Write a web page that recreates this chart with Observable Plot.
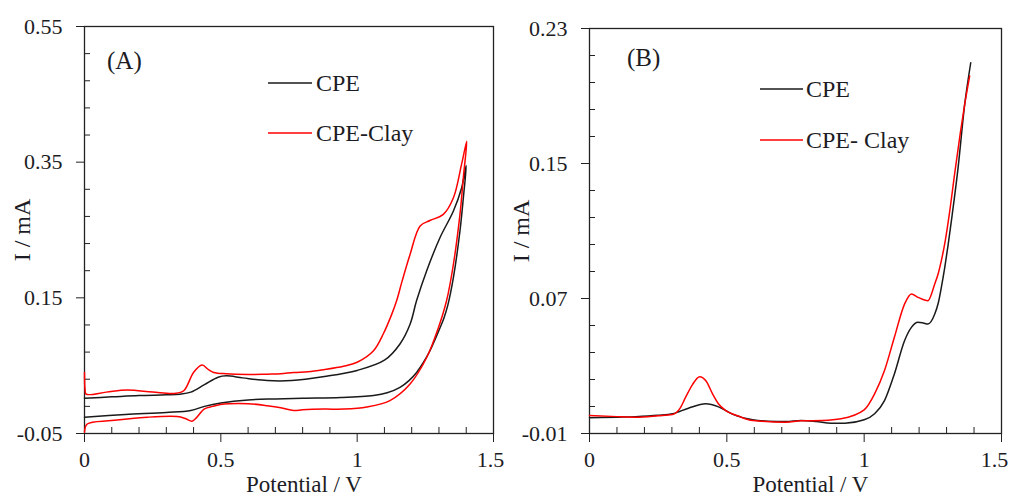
<!DOCTYPE html>
<html>
<head>
<meta charset="utf-8">
<script src="https://cdn.jsdelivr.net/npm/d3@7"></script>
<script src="https://cdn.jsdelivr.net/npm/@observablehq/plot@0.6"></script>
<style>
  html, body { margin: 0; padding: 0; background: #fff; }
  #wrap { position: relative; width: 1010px; height: 498px; overflow: hidden; background: #fff; }
  .panel { position: absolute; top: 0; }
  #overlay { position: absolute; left: 0; top: 0; pointer-events: none; }
</style>
</head>
<body>
<div id="wrap">
  <div class="panel" id="pa" style="left:0px"></div>
  <div class="panel" id="pb" style="left:505px"></div>
</div>
<script>
// ---------- Panel A data (cyclic voltammograms) ----------
const aCpeE = [0, 0.1, 0.2, 0.3, 0.35, 0.39, 0.44, 0.49, 0.52, 0.58, 0.67, 0.76, 0.88, 1.0, 1.1, 1.157, 1.194, 1.218, 1.255, 1.304, 1.353, 1.383, 1.40,
               1.39, 1.377, 1.353, 1.333, 1.318, 1.304, 1.285, 1.267, 1.24, 1.218, 1.19, 1.157, 1.11, 1.06, 0.94, 0.8, 0.7, 0.6, 0.5, 0.44, 0.39, 0.3, 0.15, 0];
const aCpeI = [0.002, 0.004, 0.006, 0.007, 0.008, 0.011, 0.022, 0.033, 0.035, 0.032, 0.028, 0.028, 0.034, 0.043, 0.058, 0.082, 0.111, 0.146, 0.19, 0.239, 0.278, 0.312, 0.345,
               0.30, 0.2485, 0.18, 0.14, 0.12, 0.106, 0.088, 0.072, 0.053, 0.04, 0.028, 0.018, 0.010, 0.006, 0.003, 0.002, 0.001, -0.0005, -0.005, -0.010, -0.016, -0.019, -0.022, -0.026];
const aClayE = [0, 0.002, 0.006, 0.08, 0.156, 0.25, 0.33, 0.364, 0.40, 0.431, 0.455, 0.474, 0.52, 0.6, 0.67, 0.72, 0.767, 0.82, 0.877, 0.95, 1.0, 1.06, 1.096, 1.127, 1.145, 1.165, 1.194, 1.231, 1.267, 1.316, 1.353, 1.383, 1.402,
                1.39, 1.377, 1.353, 1.328, 1.298, 1.255, 1.194, 1.12, 1.035, 0.95, 0.88, 0.8, 0.767, 0.72, 0.67, 0.6, 0.53, 0.498, 0.47, 0.44, 0.41, 0.394, 0.37, 0.34, 0.23, 0.1, 0.01, 0];
const aClayI = [0.04, 0.015, 0.008, 0.011, 0.014, 0.011, 0.009, 0.013, 0.04, 0.051, 0.044, 0.04, 0.038, 0.037, 0.0375, 0.038, 0.04, 0.041, 0.044, 0.049, 0.055, 0.072, 0.097, 0.126, 0.146, 0.175, 0.214, 0.256, 0.264, 0.273, 0.2975, 0.347, 0.381,
                0.33, 0.273, 0.1995, 0.146, 0.106, 0.062, 0.023, -0.0015, -0.011, -0.014, -0.014, -0.015, -0.016, -0.012, -0.009, -0.006, -0.006, -0.0073, -0.010, -0.0137, -0.027, -0.032, -0.028, -0.025, -0.026, -0.031, -0.036, -0.048];

// ---------- Panel B data (linear sweep) ----------
const bCpeE = [0, 0.1, 0.168, 0.25, 0.302, 0.36, 0.423, 0.47, 0.52, 0.594, 0.65, 0.715, 0.77, 0.825, 0.88, 0.93, 1.0, 1.038, 1.074, 1.11, 1.147, 1.172, 1.196, 1.215, 1.232, 1.257, 1.27, 1.281, 1.293, 1.305, 1.32, 1.342, 1.366, 1.388];
const bCpeI = [-0.0007, -0.0003, 0, 0.0008, 0.0017, 0.005, 0.0076, 0.0058, 0.0015, -0.0019, -0.0027, -0.0029, -0.0023, -0.0029, -0.0039, -0.0039, -0.0019, 0.0017, 0.0095, 0.0253, 0.045, 0.0529, 0.0559, 0.0555, 0.0549, 0.0608, 0.0675, 0.0766, 0.088, 0.101, 0.119, 0.1476, 0.185, 0.2097];
const bClayE = [0, 0.1, 0.168, 0.25, 0.302, 0.33, 0.35, 0.375, 0.401, 0.425, 0.448, 0.47, 0.496, 0.54, 0.594, 0.715, 0.77, 0.85, 0.916, 1.0, 1.038, 1.074, 1.11, 1.147, 1.172, 1.196, 1.232, 1.257, 1.27, 1.281, 1.295, 1.31, 1.33, 1.35, 1.366, 1.384];
const bClayI = [0.0007, 0.0, -0.0003, 0.0005, 0.0012, 0.005, 0.0115, 0.019, 0.0237, 0.021, 0.0135, 0.0075, 0.0036, 0.0005, -0.0023, -0.0033, -0.0025, -0.0023, -0.0013, 0.004, 0.0135, 0.0273, 0.047, 0.0667, 0.0727, 0.0707, 0.0687, 0.0786, 0.085, 0.0924, 0.104, 0.12, 0.1446, 0.168, 0.185, 0.2018];

// ---------- Ticks & labels ----------
const xMajor = [0, 0.5, 1, 1.5];
const xMinor = [0.1, 0.2, 0.3, 0.4, 0.6, 0.7, 0.8, 0.9, 1.1, 1.2, 1.3, 1.4];
const aYMajor = [-0.05, 0.15, 0.35, 0.55];
const aYMinor = [-0.01, 0.03, 0.07, 0.11, 0.19, 0.23, 0.27, 0.31, 0.39, 0.43, 0.47, 0.51];
const bYMajor = [-0.01, 0.07, 0.15, 0.23];
const bYMinor = [0.006, 0.022, 0.038, 0.054, 0.086, 0.102, 0.118, 0.134, 0.166, 0.182, 0.198, 0.214];
const seriesA = ["CPE", "CPE-Clay"];
const seriesB = ["CPE", "CPE- Clay"];
const colors = ["#1a1a1a", "#ff0000"];
const xTitle = "Potential / V";
const yTitle = "I / mA";
const panelTags = ["(A)", "(B)"];

const FONT = "'Liberation Serif', 'Times New Roman', serif";
const TXT = "#1c1c24";

function rows(E, I, s) { return E.map((e, i) => ({E: e, I: I[i], s})); }

function panel({data, series, yMajor, yMinor, mr, mt, yDx, lastDx, curve}) {
  const fmtX = d => String(d);
  return Plot.plot({
    width: 505, height: 498,
    marginLeft: 84, marginRight: mr, marginTop: mt, marginBottom: 65,
    x: {domain: [0, 1.5]},
    y: {domain: [yMajor[0], yMajor[yMajor.length - 1]]},
    color: {domain: series, range: colors},
    style: {fontFamily: FONT, fontSize: "22px", color: TXT, background: "white", overflow: "visible"},
    marks: [
      // major x ticks (outward) and their labels
      Plot.axisX({ticks: xMajor, tickSize: 9, tickFormat: () => "", label: null, stroke: "#222"}),
      Plot.axisX({ticks: xMajor.slice(0, -1), tickSize: 0, tickPadding: 18, tickFormat: fmtX, label: null, fontSize: 22, fill: TXT}),
      Plot.axisX({ticks: xMajor.slice(-1), tickSize: 0, tickPadding: 18, dx: lastDx, tickFormat: fmtX, label: null, fontSize: 22, fill: TXT}),
      // minor x ticks (inward)
      Plot.axisX({ticks: xMinor, tickSize: 6, dy: -6, tickFormat: () => "", label: null, stroke: "#222"}),
      // y ticks
      Plot.axisY({ticks: yMajor, tickSize: 8, tickPadding: 14, tickFormat: d => d.toFixed(2), label: null, stroke: "#222", fontSize: 22, fill: TXT}),
      Plot.axisY({ticks: yMinor, tickSize: 6, dx: 6, tickFormat: () => "", label: null, stroke: "#222"}),
      Plot.frame({stroke: "#222", strokeWidth: 1.3}),
      Plot.text([xTitle], {frameAnchor: "bottom", dx: 15, dy: 51, lineAnchor: "middle", textAnchor: "middle", fontSize: 23, fill: TXT}),
      Plot.text([yTitle], {frameAnchor: "left", dx: yDx, rotate: -90, lineAnchor: "middle", textAnchor: "middle", fontSize: 24, fill: TXT}),
      Plot.line(data, {x: "E", y: "I", z: "s", stroke: "s", strokeWidth: 1.5, curve})
    ]
  });
}

const dataA = [...rows(aCpeE, aCpeI, seriesA[0]), ...rows(aClayE, aClayI, seriesA[1])];
const dataB = [...rows(bCpeE, bCpeI, seriesB[0]), ...rows(bClayE, bClayI, seriesB[1])];

document.getElementById("pa").appendChild(panel({data: dataA, series: seriesA, yMajor: aYMajor, yMinor: aYMinor, mr: 12, mt: 26, yDx: -62, lastDx: -3, curve: "catmull-rom"}));
document.getElementById("pb").appendChild(panel({data: dataB, series: seriesB, yMajor: bYMajor, yMinor: bYMinor, mr: 9, mt: 28, yDx: -68, lastDx: -7, curve: "monotone-x"}));

// ---------- Legends & panel tags (overlay) ----------
const ov = d3.select("#wrap").append("svg").attr("id", "overlay").attr("width", 1010).attr("height", 498)
  .style("font-family", FONT);
const legends = [
  {tag: panelTags[0], tx: 107, ty: 60, x1: 268, x2: 312, tx2: 316, ys: [83, 133], labels: seriesA},
  {tag: panelTags[1], tx: 627, ty: 57, x1: 760, x2: 803, tx2: 806, ys: [89, 140], labels: seriesB}
];
for (const L of legends) {
  ov.append("text").attr("x", L.tx).attr("y", L.ty).attr("dy", "0.35em").attr("font-size", 25).attr("fill", TXT).text(L.tag);
  L.labels.forEach((lab, i) => {
    ov.append("line").attr("x1", L.x1).attr("x2", L.x2).attr("y1", L.ys[i]).attr("y2", L.ys[i]).attr("stroke", colors[i]).attr("stroke-width", 1.5);
    ov.append("text").attr("x", L.tx2).attr("y", L.ys[i]).attr("dy", "0.35em").attr("font-size", 24).attr("fill", TXT).text(lab);
  });
}
</script>
</body>
</html>
